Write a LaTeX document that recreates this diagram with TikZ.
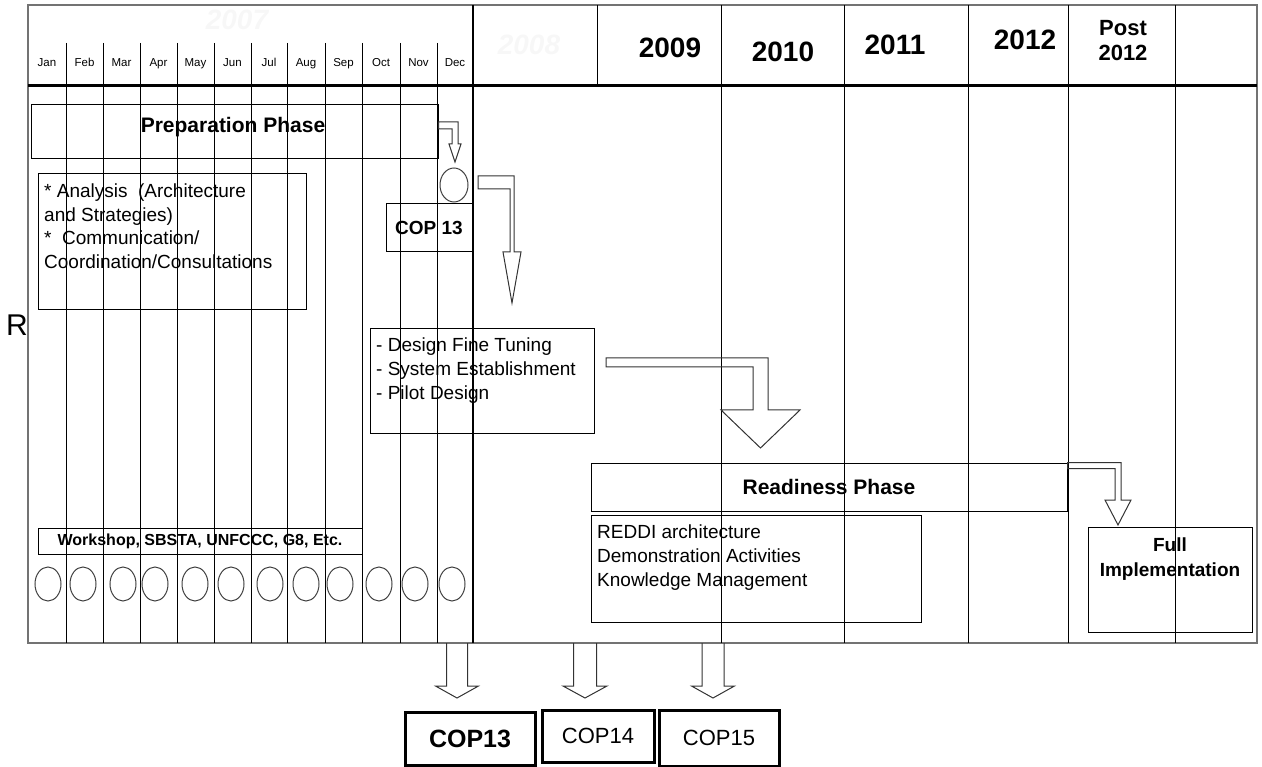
\documentclass[tikz,border=0pt]{standalone}
\usepackage{fontspec}
\setmainfont{Liberation Sans}
\usetikzlibrary{calc,shapes.geometric}
\newcommand{\pxfont}[2]{\fontsize{#1pt}{#2pt}\selectfont}
% block arrow: start, tip, half shaft (across, down), half head, head length
\newcommand{\bentarrow}[6]{%
  \draw[hollow] let \p1=(#1), \p2=(#2) in
    (\x1,\y1+#3) -- (\x2+#4,\y1+#3) -- (\x2+#4,\y2+#6) -- (\x2+#5,\y2+#6)
    -- (\x2,\y2) -- (\x2-#5,\y2+#6) -- (\x2-#4,\y2+#6) -- (\x2-#4,\y1-#3)
    -- (\x1,\y1-#3) -- cycle;}
\newcommand{\droparrow}[5]{%
  \draw[hollow] let \p1=(#1), \p2=(#2) in
    (\x2-#3,\y1) -- (\x2-#3,\y2+#5) -- (\x2-#4,\y2+#5) -- (\x2,\y2)
    -- (\x2+#4,\y2+#5) -- (\x2+#3,\y2+#5) -- (\x2+#3,\y1);}
\begin{document}
\begin{tikzpicture}[x=1pt,y=-1pt,
    box/.style={draw,line width=1pt,inner sep=0pt},
    copbox/.style={draw,line width=3pt,inner sep=0pt},
    hollow/.style={draw=black!80,line width=1pt,line join=miter},
    gridline/.style={line width=1pt},
    month/.style={font=\pxfont{11.5}{13},anchor=base,inner sep=0pt},
    year/.style={font=\bfseries\pxfont{28}{30}},
    faint/.style={font=\bfseries\itshape\pxfont{28}{30},text=black!3},
    listtxt/.style={align=left,inner sep=0pt,font=\pxfont{19}{23.5}},
    dot/.style={draw=black!75,line width=1pt,ellipse,inner sep=0pt,minimum width=26pt,minimum height=34pt}]
    \useasboundingbox (0,0) rectangle (1262,767);
    % frame and columns
    \draw[line width=2pt,black!55] (28,5) rectangle (1257,643);
    \foreach \x in {66,103,140,177,214,251,287,325,362,400,437}
        \draw[gridline] (\x,43) -- (\x,643);
    \draw[line width=2pt] (473,5) -- (473,643);
    \draw[gridline] (597,5) -- (597,86);
    \foreach \x in {721,844,968,1068,1175}
        \draw[gridline] (\x,5) -- (\x,643);
    \draw[line width=3pt] (28,86) -- (1257,86);
    % header labels
    \foreach \x/\m in {47/Jan,84.5/Feb,121.5/Mar,158.5/Apr,195.5/May,232.5/Jun,269/Jul,306/Aug,343.5/Sep,381/Oct,418.5/Nov,455/Dec}
        \node[month] (m-\m) at (\x,67) {\m};
    \node[faint] (y2007) at (237,20) {2007};
    \node[faint] (y2008) at (529,45) {2008};
    \node[year] (y2009) at (670,48) {2009};
    \node[year] (y2010) at (783,52) {2010};
    \node[year] (y2011) at (895,45) {2011};
    \node[year] (y2012) at (1025,40) {2012};
    \node[font=\bfseries\pxfont{22}{25},align=center] (ypost) at (1123,41) {Post\\2012};
    \node[font=\pxfont{30}{32}] (rlab) at (17,325) {R};
    % preparation
    \node[box,minimum width=407pt,minimum height=54pt] (prep) at (234.5,132) {};
    \node[font=\bfseries\pxfont{21}{24}] (preptxt) at (233,127) {Preparation Phase};
    \node[box,minimum width=268pt,minimum height=136pt] (anal) at (172,242) {};
    \node[listtxt,anchor=north west] (analtxt) at (44,184) {* Analysis\ \ (Architecture\\and Strategies)\\*\ \ Communication/\\Coordination/Consultations};
    \node[dot,minimum width=28pt] (cop) at (454,185) {};
    \node[box,minimum width=86pt,minimum height=48pt,font=\bfseries\pxfont{19}{22}] (cop13) at (429,228) {COP 13};
    \coordinate (atip) at (455,162);
    \bentarrow{[yshift=6.5pt]prep.east}{atip}{3.5pt}{3pt}{6pt}{18pt}
    \coordinate (bstart) at (478,182.5);
    \coordinate (btip) at (512,303);
    \bentarrow{bstart}{btip}{6.5pt}{2pt}{9pt}{51pt}
    % design
    \node[box,minimum width=224pt,minimum height=105pt] (design) at (482,381.5) {};
    \node[listtxt,anchor=north west,font=\pxfont{19}{24}] (designtxt) at (376,338) {- Design Fine Tuning\\- System Establishment\\- Pilot Design};
    \coordinate (cstart) at (606,362.5);
    \coordinate (ctip) at (760.5,448);
    \bentarrow{cstart}{ctip}{4.5pt}{7.5pt}{39.5pt}{38pt}
    % readiness
    \node[box,minimum width=476pt,minimum height=48pt,font=\bfseries\pxfont{21}{24}] (ready) at (829,487) {Readiness Phase};
    \node[box,minimum width=330pt,minimum height=107pt] (reddi) at (756,568.5) {};
    \node[listtxt,anchor=north west,font=\pxfont{19}{24}] (redditxt) at (597,525) {REDDI architecture\\Demonstration Activities\\Knowledge Management};
    \node[box,minimum width=164pt,minimum height=105pt] (full) at (1170,579.5) {};
    \node[font=\bfseries\pxfont{19}{25},align=center,inner sep=0pt] (fulltxt) at (1170,559) {Full\\Implementation};
    \coordinate (dtip) at (1118,525);
    \bentarrow{[yshift=-3pt]ready.north east}{dtip}{3pt}{3pt}{13pt}{25pt}
    % workshops
    \node[box,minimum width=324pt,minimum height=26pt,font=\bfseries\pxfont{16}{18}] (shop) at (200,541) {Workshop, SBSTA, UNFCCC, G8, Etc.};
    \foreach \x [count=\i] in {48,83,123,155,195,231,270,306,340,379,415,452}
        \node[dot] (e\i) at (\x,584) {};
    % COP meetings
    \node[copbox,minimum width=130pt,minimum height=53pt,font=\bfseries\pxfont{25}{28}] (copA) at (470,738.5) {COP13};
    \node[copbox,minimum width=112pt,minimum height=52pt,font=\pxfont{22}{25}] (copB) at (598,736) {COP14};
    \node[copbox,minimum width=120pt,minimum height=56pt,font=\pxfont{22}{25}] (copC) at (719,738) {COP15};
    \coordinate (eA) at (457,643);
    \coordinate (eB) at (585,643);
    \coordinate (eC) at (713,643);
    \coordinate (tA) at (457,698);
    \coordinate (tB) at (585,698);
    \coordinate (tC) at (713,698);
    \droparrow{eA}{tA}{10.5pt}{21.5pt}{12pt}
    \droparrow{eB}{tB}{11.5pt}{22pt}{12pt}
    \droparrow{eC}{tC}{11pt}{21.5pt}{12pt}
\end{tikzpicture}
\end{document}
